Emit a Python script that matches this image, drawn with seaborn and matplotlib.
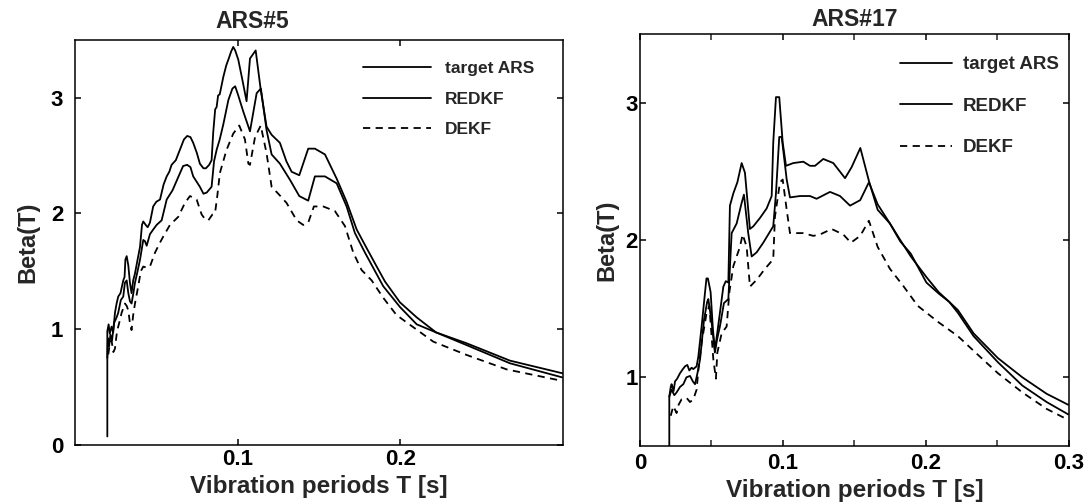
import matplotlib
matplotlib.use("Agg")
import matplotlib.pyplot as plt
from matplotlib.ticker import MultipleLocator
import seaborn as sns

# ── ARS#5 ─────────────────────────────────────────────────────
t5_target = [0.0199, 0.0199, 0.0207, 0.0214, 0.0225, 0.0235, 0.0246, 0.0256, 0.0266, 0.0280,
             0.0297, 0.0305, 0.0310, 0.0318, 0.0328, 0.0338, 0.0348, 0.0358, 0.0369, 0.0385,
             0.0400, 0.0412, 0.0420, 0.0435, 0.0447, 0.0461, 0.0481, 0.0500, 0.0523, 0.0545,
             0.0564, 0.0580, 0.0594, 0.0620, 0.0645, 0.0670, 0.0690, 0.0710, 0.0727, 0.0750,
             0.0768, 0.0790, 0.0805, 0.0825, 0.0840, 0.0850, 0.0862, 0.0871, 0.0880, 0.0890,
             0.0912, 0.0930, 0.0943, 0.0960, 0.0973, 0.0985, 0.1004, 0.1030, 0.1055, 0.1076,
             0.1111, 0.1142, 0.1178, 0.1209, 0.1260, 0.1300, 0.1332, 0.1379, 0.1434, 0.1475,
             0.1537, 0.1609, 0.1670, 0.1732, 0.1793, 0.1855, 0.1906, 0.1998, 0.2101, 0.2220,
             0.2408, 0.2674, 0.2998]
b5_target = [0.07, 0.98, 1.04, 0.96, 1.02, 0.97, 1.14, 1.22, 1.28, 1.31,
             1.42, 1.45, 1.60, 1.63, 1.55, 1.40, 1.31, 1.42, 1.48, 1.60,
             1.71, 1.90, 1.93, 1.90, 1.88, 1.92, 2.06, 2.10, 2.12, 2.25,
             2.32, 2.36, 2.42, 2.46, 2.55, 2.64, 2.67, 2.66, 2.61, 2.52,
             2.43, 2.39, 2.39, 2.42, 2.46, 2.70, 2.90, 2.92, 3.02, 3.03,
             3.18, 3.28, 3.33, 3.40, 3.44, 3.41, 3.33, 3.15, 2.97, 3.34,
             3.41, 3.07, 2.75, 2.68, 2.61, 2.45, 2.36, 2.33, 2.56, 2.56,
             2.51, 2.30, 2.10, 1.86, 1.70, 1.54, 1.41, 1.23, 1.10, 0.97,
             0.876, 0.726, 0.616]

t5_redkf = [0.0199, 0.0203, 0.0210, 0.0218, 0.0228, 0.0240, 0.0256, 0.0266, 0.0282, 0.0297,
            0.0307, 0.0318, 0.0328, 0.0338, 0.0348, 0.0358, 0.0369, 0.0385, 0.0400, 0.0420,
            0.0430, 0.0441, 0.0461, 0.0481, 0.0502, 0.0533, 0.0564, 0.0600, 0.0640, 0.0665,
            0.0690, 0.0710, 0.0727, 0.0768, 0.0790, 0.0810, 0.0840, 0.0855, 0.0871, 0.0890,
            0.0912, 0.0943, 0.0968, 0.0985, 0.1004, 0.1035, 0.1076, 0.1117, 0.1143, 0.1178,
            0.1209, 0.1260, 0.1322, 0.1379, 0.1434, 0.1475, 0.1537, 0.1609, 0.1670, 0.1721,
            0.1783, 0.1895, 0.1998, 0.2101, 0.2220, 0.2408, 0.2674, 0.2998]
b5_redkf = [0.75, 0.92, 0.85, 0.95, 0.90, 1.05, 1.10, 1.14, 1.25, 1.28,
            1.40, 1.42, 1.31, 1.24, 1.22, 1.30, 1.40, 1.50, 1.60, 1.77,
            1.76, 1.72, 1.82, 1.86, 1.90, 1.94, 2.12, 2.20, 2.33, 2.41,
            2.42, 2.40, 2.32, 2.23, 2.17, 2.18, 2.23, 2.45, 2.55, 2.64,
            2.77, 2.98, 3.08, 3.10, 3.02, 2.88, 2.71, 3.04, 3.08, 2.72,
            2.51, 2.43, 2.29, 2.15, 2.11, 2.32, 2.32, 2.26, 2.06, 1.83,
            1.66, 1.37, 1.19, 1.04, 0.97, 0.86, 0.703, 0.58]

t5_dekf = [0.0205, 0.0215, 0.0225, 0.0236, 0.0246, 0.0256, 0.0266, 0.0277, 0.0287, 0.0307,
           0.0318, 0.0328, 0.0338, 0.0348, 0.0358, 0.0369, 0.0389, 0.0405, 0.0420, 0.0440,
           0.0461, 0.0492, 0.0520, 0.0543, 0.0584, 0.0635, 0.0676, 0.0707, 0.0748, 0.0779,
           0.0800, 0.0820, 0.0845, 0.0861, 0.0875, 0.0891, 0.0932, 0.0973, 0.1010, 0.1045,
           0.1066, 0.1076, 0.1107, 0.1142, 0.1178, 0.1209, 0.1250, 0.1301, 0.1363, 0.1403,
           0.1434, 0.1469, 0.1526, 0.1598, 0.1660, 0.1711, 0.1762, 0.1824, 0.1895, 0.1977,
           0.2203, 0.2408, 0.2654, 0.2998]
b5_dekf = [0.78, 0.88, 0.90, 0.80, 0.83, 0.95, 1.02, 1.08, 1.14, 1.22,
           1.20, 1.16, 1.05, 0.99, 1.12, 1.22, 1.37, 1.50, 1.54, 1.53,
           1.54, 1.66, 1.74, 1.80, 1.90, 1.97, 2.09, 2.15, 2.12, 1.99,
           1.95, 1.94, 1.99, 2.00, 2.15, 2.35, 2.55, 2.69, 2.76, 2.64,
           2.43, 2.42, 2.66, 2.76, 2.52, 2.23, 2.17, 2.09, 1.94, 1.90,
           1.92, 2.06, 2.06, 2.02, 1.89, 1.66, 1.51, 1.42, 1.27, 1.12,
           0.89, 0.775, 0.65, 0.55]

# ── ARS#17 ────────────────────────────────────────────────────
t17_target = [0.0205, 0.0205, 0.0215, 0.0221, 0.0235, 0.0245, 0.0260, 0.0280, 0.0300, 0.0315,
              0.0331, 0.0345, 0.0361, 0.0373, 0.0396, 0.0408, 0.0431, 0.0455, 0.0465, 0.0475,
              0.0494, 0.0510, 0.0524, 0.0540, 0.0559, 0.0583, 0.0600, 0.0618, 0.0629, 0.0653,
              0.0681, 0.0711, 0.0734, 0.0769, 0.0793, 0.0839, 0.0886, 0.0921, 0.0932, 0.0951,
              0.0974, 0.0998, 0.1021, 0.1072, 0.1142, 0.1189, 0.1224, 0.1282, 0.1352, 0.1434,
              0.1480, 0.1541, 0.1601, 0.1662, 0.1748, 0.1820, 0.1894, 0.2003, 0.2089, 0.2162,
              0.2223, 0.2333, 0.2503, 0.2674, 0.2844, 0.2995]
b17_target = [0.07, 0.86, 0.93, 0.95, 0.90, 0.97, 0.99, 1.03, 1.06, 1.08,
              1.09, 1.05, 1.07, 1.06, 1.08, 1.15, 1.37, 1.62, 1.72, 1.72,
              1.62, 1.35, 1.20, 1.32, 1.47, 1.66, 1.70, 1.69, 2.25, 2.34,
              2.42, 2.56, 2.49, 2.08, 2.10, 2.16, 2.23, 2.32, 2.71, 3.04,
              3.04, 2.71, 2.54, 2.56, 2.57, 2.54, 2.54, 2.59, 2.56, 2.45,
              2.53, 2.67, 2.43, 2.22, 2.12, 2.00, 1.88, 1.73, 1.62, 1.55,
              1.49, 1.32, 1.14, 1.00, 0.88, 0.80]

t17_redkf = [0.0205, 0.0221, 0.0240, 0.0256, 0.0280, 0.0303, 0.0325, 0.0350, 0.0370, 0.0385,
             0.0400, 0.0420, 0.0448, 0.0470, 0.0478, 0.0501, 0.0524, 0.0540, 0.0559, 0.0587,
             0.0618, 0.0641, 0.0676, 0.0711, 0.0727, 0.0757, 0.0781, 0.0816, 0.0862, 0.0932,
             0.0951, 0.0974, 0.0991, 0.1026, 0.1049, 0.1119, 0.1189, 0.1235, 0.1329, 0.1399,
             0.1469, 0.1540, 0.1601, 0.1662, 0.1748, 0.1820, 0.1894, 0.2003, 0.2089, 0.2162,
             0.2223, 0.2333, 0.2503, 0.2674, 0.2844, 0.2995]
b17_redkf = [0.86, 0.91, 0.87, 0.89, 0.93, 0.95, 1.00, 1.01, 0.97, 0.95,
             1.02, 1.13, 1.42, 1.55, 1.57, 1.40, 1.18, 1.28, 1.37, 1.54,
             1.57, 2.05, 2.12, 2.27, 2.33, 2.05, 1.88, 1.91, 1.98, 2.10,
             2.34, 2.75, 2.75, 2.44, 2.31, 2.32, 2.32, 2.30, 2.35, 2.32,
             2.25, 2.29, 2.42, 2.26, 2.12, 1.99, 1.90, 1.69, 1.61, 1.55,
             1.47, 1.30, 1.11, 0.94, 0.82, 0.73]

t17_dekf = [0.0215, 0.0233, 0.0256, 0.0270, 0.0291, 0.0326, 0.0350, 0.0373, 0.0396, 0.0408,
            0.0431, 0.0466, 0.0485, 0.0513, 0.0531, 0.0541, 0.0571, 0.0606, 0.0625, 0.0653,
            0.0699, 0.0718, 0.0746, 0.0769, 0.0816, 0.0874, 0.0932, 0.0944, 0.0979, 0.0998,
            0.1026, 0.1049, 0.1142, 0.1212, 0.1259, 0.1340, 0.1422, 0.1475, 0.1540, 0.1601,
            0.1662, 0.1748, 0.1845, 0.1943, 0.2089, 0.2223, 0.2357, 0.2503, 0.2674, 0.2844,
            0.2995]
b17_dekf = [0.72, 0.79, 0.74, 0.80, 0.84, 0.85, 0.82, 0.84, 0.91, 1.05,
            1.25, 1.47, 1.52, 1.13, 0.99, 1.18, 1.32, 1.37, 1.62, 1.81,
            1.95, 2.04, 1.95, 1.66, 1.71, 1.79, 1.86, 2.17, 2.42, 2.44,
            2.22, 2.05, 2.05, 2.03, 2.04, 2.08, 2.04, 1.98, 2.03, 2.14,
            1.95, 1.79, 1.66, 1.52, 1.40, 1.30, 1.17, 1.03, 0.89, 0.77,
            0.69]

LABELS = ["target ARS", "REDKF", "DEKF"]
DASHES = (0, (4, 3))

sns.set_theme(style="ticks")
plt.rcParams["font.family"] = ["Liberation Sans", "DejaVu Sans"]
plt.rcParams["font.weight"] = "bold"
plt.rcParams["axes.labelweight"] = "bold"
plt.rcParams["axes.titleweight"] = "bold"
plt.rcParams["axes.linewidth"] = 1.1


def draw_curves(ax, series):
    for (t, b), label in zip(series, LABELS):
        ls = DASHES if label == "DEKF" else "-"
        sns.lineplot(x=t, y=b, ax=ax, color="black", lw=1.3, linestyle=ls,
                     estimator=None, sort=False, label=label)


def style_axes(ax, title, title_x, title_pad, tick_pad, x_pad):
    ax.set_title(title, fontsize=16.5, x=title_x, pad=title_pad)
    ax.set_xlabel("Vibration periods T [s]", fontsize=17.5, labelpad=4)
    ax.set_ylabel("Beta(T)", fontsize=17)
    ax.tick_params(direction="in", length=4, width=1.1, top=True, right=True,
                   labelsize=16, colors="black")
    ax.tick_params(axis="y", pad=tick_pad)
    ax.tick_params(axis="x", pad=x_pad)
    ax.tick_params(which="minor", direction="in", length=4, width=1.1,
                   top=True, right=True)
    for sp in ax.spines.values():
        sp.set_color("black")
        sp.set_linewidth(1.1)


def main():
    fig = plt.figure(figsize=(10.91, 5.04), dpi=100)
    ax1 = fig.add_axes([0.0687, 0.118, 0.4473, 0.8026])
    ax2 = fig.add_axes([0.5866, 0.1151, 0.3932, 0.8175])

    # left panel
    draw_curves(ax1, [(t5_target, b5_target), (t5_redkf, b5_redkf), (t5_dekf, b5_dekf)])
    ax1.set_xlim(0, 0.3)
    ax1.set_ylim(0, 3.5)
    ax1.set_xticks([0.1, 0.2])
    ax1.set_xticklabels(["0.1", "0.2"])
    ax1.set_yticks([0, 1, 2, 3])
    style_axes(ax1, "ARS#5", 0.363, 8.5, 8.5, 3)
    ax1.yaxis.labelpad = 8
    ax1.legend(loc="upper left", bbox_to_anchor=(0.59, 0.949), frameon=False,
               fontsize=12.5, handlelength=3.9, handletextpad=0.85,
               labelspacing=0.9, borderpad=0, borderaxespad=0)

    # right panel
    draw_curves(ax2, [(t17_target, b17_target), (t17_redkf, b17_redkf), (t17_dekf, b17_dekf)])
    ax2.set_xlim(0, 0.3)
    ax2.set_ylim(0.5, 3.5)
    ax2.set_xticks([0, 0.1, 0.2, 0.3])
    ax2.set_xticklabels(["0", "0.1", "0.2", "0.3"])
    ax2.xaxis.set_minor_locator(MultipleLocator(0.05))
    ax2.set_yticks([1, 2, 3])
    style_axes(ax2, "ARS#17", 0.5, 6, 1.5, 5)
    ax2.yaxis.labelpad = 5
    ax2.legend(loc="upper left", bbox_to_anchor=(0.606, 0.946), frameon=False,
               fontsize=13.5, handlelength=2.8, handletextpad=0.55,
               labelspacing=1.3, borderpad=0, borderaxespad=0)

    fig.savefig("out.png", dpi=100)
    plt.close(fig)


if __name__ == "__main__":
    main()
